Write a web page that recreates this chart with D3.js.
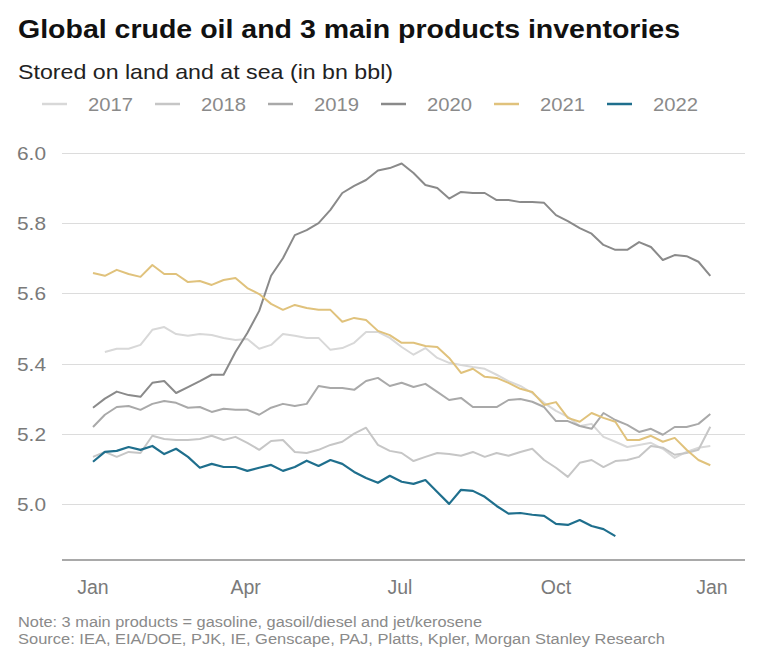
<!DOCTYPE html>
<html>
<head>
<meta charset="utf-8">
<script src="https://cdn.jsdelivr.net/npm/d3@7"></script>
<style>
  html, body { margin: 0; padding: 0; background: #fff; }
  svg { display: block; font-family: "Liberation Sans", Arial, sans-serif; }
</style>
</head>
<body>
<svg id="chart" width="758" height="658"></svg>
<script>
// ---- Data (weekly readings, day = index * 7 from Jan 1) ----
const years = ["2017", "2018", "2019", "2020", "2021", "2022"];
const stepDays = 7;

const v2017 = [null, 5.433, 5.442, 5.442, 5.453, 5.496, 5.504, 5.484, 5.479, 5.484, 5.481, 5.473, 5.467, 5.47,
  5.442, 5.453, 5.484, 5.479, 5.473, 5.473, 5.439, 5.444, 5.459, 5.49, 5.49, 5.473, 5.447, 5.425, 5.444,
  5.416, 5.402, 5.396, 5.39, 5.385, 5.368, 5.35, 5.336, 5.316, 5.288, 5.265, 5.248, 5.222, 5.228, 5.191,
  5.177, 5.162, 5.168, 5.174, 5.157, 5.131, 5.148, 5.16, 5.165];

const v2018 = [5.134, 5.148, 5.134, 5.148, 5.145, 5.194, 5.185, 5.182, 5.182, 5.185, 5.194, 5.182, 5.191, 5.174,
  5.154, 5.179, 5.182, 5.148, 5.145, 5.154, 5.168, 5.177, 5.20, 5.217, 5.168, 5.151, 5.145, 5.122, 5.134,
  5.145, 5.142, 5.137, 5.148, 5.134, 5.145, 5.137, 5.148, 5.157, 5.125, 5.103, 5.077, 5.117, 5.125, 5.105,
  5.122, 5.125, 5.134, 5.165, 5.16, 5.14, 5.145, 5.154, 5.22];

const v2019 = [5.219, 5.254, 5.276, 5.279, 5.268, 5.285, 5.293, 5.288, 5.274, 5.276, 5.262, 5.271, 5.268, 5.268,
  5.254, 5.274, 5.285, 5.279, 5.285, 5.336, 5.33, 5.33, 5.325, 5.35, 5.359, 5.336, 5.345, 5.333, 5.342,
  5.319, 5.296, 5.302, 5.276, 5.276, 5.276, 5.296, 5.299, 5.291, 5.276, 5.236, 5.236, 5.222, 5.214, 5.259,
  5.239, 5.225, 5.205, 5.214, 5.197, 5.219, 5.219, 5.228, 5.256];

const v2020 = [5.274, 5.30, 5.32, 5.31, 5.305, 5.345, 5.35, 5.316, 5.333, 5.35, 5.368, 5.368, 5.433, 5.487,
  5.55, 5.65, 5.70, 5.766, 5.78, 5.80, 5.838, 5.886, 5.906, 5.923, 5.95, 5.957, 5.97, 5.943, 5.909,
  5.90, 5.87, 5.889, 5.886, 5.886, 5.866, 5.866, 5.86, 5.86, 5.858, 5.823, 5.806, 5.786, 5.77, 5.738,
  5.724, 5.724, 5.746, 5.732, 5.695, 5.709, 5.706, 5.69, 5.65];

const v2021 = [5.658, 5.65, 5.667, 5.655, 5.647, 5.681, 5.655, 5.655, 5.632, 5.635, 5.624, 5.638, 5.644, 5.615,
  5.598, 5.57, 5.553, 5.567, 5.558, 5.553, 5.553, 5.519, 5.53, 5.524, 5.493, 5.481, 5.459, 5.459, 5.45,
  5.447, 5.416, 5.373, 5.385, 5.362, 5.359, 5.345, 5.328, 5.319, 5.282, 5.29, 5.245, 5.234, 5.259, 5.245,
  5.234, 5.182, 5.182, 5.194, 5.177, 5.188, 5.154, 5.125, 5.11];

const v2022 = [5.12, 5.148, 5.151, 5.162, 5.154, 5.165, 5.142, 5.157, 5.134, 5.103, 5.114, 5.105, 5.105, 5.094,
  5.103, 5.111, 5.094, 5.105, 5.123, 5.108, 5.125, 5.114, 5.091, 5.074, 5.06, 5.08, 5.063, 5.057, 5.068,
  5.034, 5.00, 5.04, 5.037, 5.02, 4.994, 4.972, 4.974, 4.969, 4.966, 4.943, 4.94, 4.954, 4.937, 4.928,
  4.908];

const yTicks = [5.0, 5.2, 5.4, 5.6, 5.8, 6.0];
const monthDays = [0, 90, 181, 273, 365];
const monthLabels = ["Jan", "Apr", "Jul", "Oct", "Jan"];
const colors = ["#d8d8d8", "#c6c6c6", "#a9a9a9", "#8a8a8a", "#e0c27c", "#1f6f8d"];

const seriesValues = [v2017, v2018, v2019, v2020, v2021, v2022];

// ---- Layout ----
const svg = d3.select("#chart");
const gridX1 = 62, gridX2 = 745;
const x = d3.scaleLinear().domain([0, 365]).range([93, 712]);
const y = d3.scaleLinear().domain([4.84, 6.0]).range([560, 153]);

// Title & subtitle
svg.append("text").attr("x", 18).attr("y", 38)
  .attr("font-size", 26).attr("font-weight", "bold").attr("fill", "#111")
  .attr("textLength", 662).attr("lengthAdjust", "spacingAndGlyphs")
  .text("Global crude oil and 3 main products inventories");
svg.append("text").attr("x", 18).attr("y", 79)
  .attr("font-size", 21).attr("fill", "#222")
  .attr("textLength", 375).attr("lengthAdjust", "spacingAndGlyphs")
  .text("Stored on land and at sea (in bn bbl)");

// Legend
const legend = svg.append("g");
years.forEach((yr, i) => {
  const lx = 42 + i * 113;
  legend.append("line").attr("x1", lx).attr("x2", lx + 25).attr("y1", 104).attr("y2", 104)
    .attr("stroke", colors[i]).attr("stroke-width", 2.5);
  legend.append("text").attr("x", lx + 46).attr("y", 111)
    .attr("font-size", 19).attr("fill", "#8a8a8a")
    .attr("textLength", 45).attr("lengthAdjust", "spacingAndGlyphs").text(yr);
});

// Gridlines
svg.append("g").selectAll("line").data(yTicks).join("line")
  .attr("x1", gridX1).attr("x2", gridX2)
  .attr("y1", d => Math.round(y(d)) + 0.5).attr("y2", d => Math.round(y(d)) + 0.5)
  .attr("stroke", "#dcdcdc").attr("stroke-width", 1);

// Y axis labels
svg.append("g").selectAll("text").data(yTicks).join("text")
  .attr("x", 46).attr("y", d => y(d) + 7)
  .attr("text-anchor", "end").attr("font-size", 19).attr("fill", "#7a7a7a")
  .attr("textLength", 29).attr("lengthAdjust", "spacingAndGlyphs")
  .text(d => d3.format(".1f")(d));

// X axis line
svg.append("line").attr("x1", gridX1).attr("x2", gridX2)
  .attr("y1", 560).attr("y2", 560).attr("stroke", "#8c8c8c").attr("stroke-width", 1.5);

// X axis labels
svg.append("g").selectAll("text").data(monthDays).join("text")
  .attr("x", d => x(d)).attr("y", 594)
  .attr("text-anchor", "middle").attr("font-size", 19.5).attr("fill", "#7a7a7a")
  .text((d, i) => monthLabels[i]);

// Lines
const line = d3.line()
  .defined(d => d.v != null)
  .x(d => x(d.day)).y(d => y(d.v))
  .curve(d3.curveLinear);

const plot = svg.append("g");
seriesValues.forEach((vals, i) => {
  const pts = vals.map((v, k) => ({ day: k * stepDays, v }));
  plot.append("path").datum(pts)
    .attr("fill", "none").attr("stroke", colors[i])
    .attr("stroke-width", i === 5 ? 2.2 : 2)
    .attr("stroke-linejoin", "round")
    .attr("d", line);
});

// Footnotes
svg.append("text").attr("x", 18).attr("y", 627)
  .attr("font-size", 15.5).attr("fill", "#8a8a8a")
  .attr("textLength", 464).attr("lengthAdjust", "spacingAndGlyphs")
  .text("Note: 3 main products = gasoline, gasoil/diesel and jet/kerosene");
svg.append("text").attr("x", 18).attr("y", 644)
  .attr("font-size", 15.5).attr("fill", "#8a8a8a")
  .attr("textLength", 647).attr("lengthAdjust", "spacingAndGlyphs")
  .text("Source: IEA, EIA/DOE, PJK, IE, Genscape, PAJ, Platts, Kpler, Morgan Stanley Research");
</script>
</body>
</html>
